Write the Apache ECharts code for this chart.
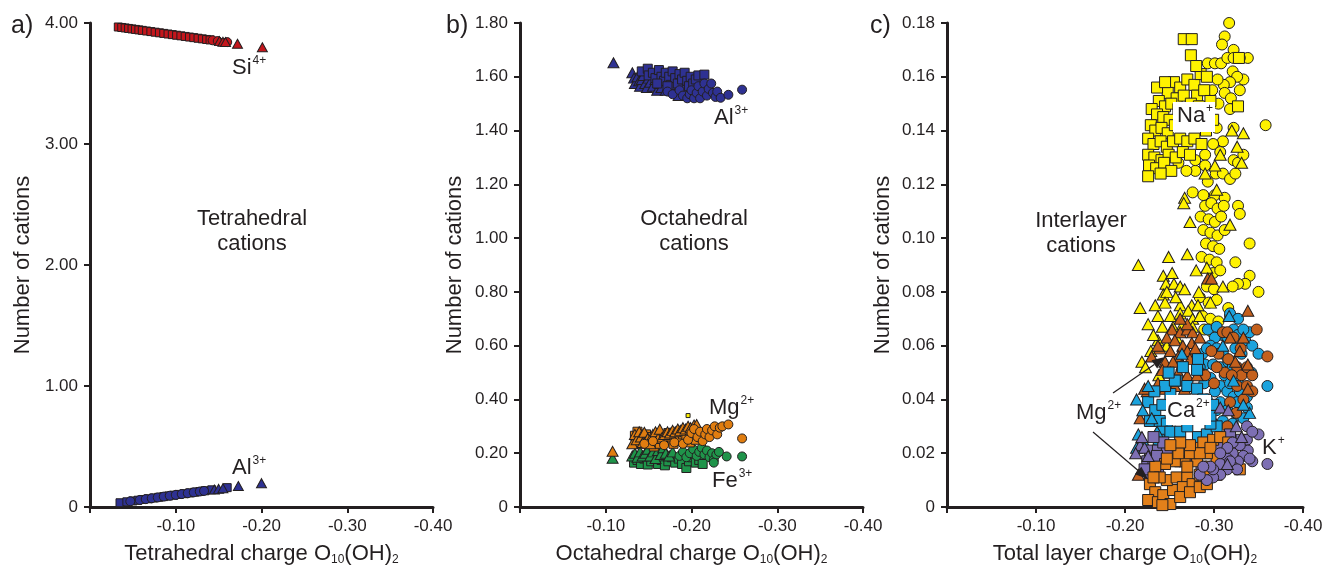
<!DOCTYPE html>
<html><head><meta charset="utf-8">
<script src="https://cdn.jsdelivr.net/npm/echarts@6/dist/echarts.min.js"></script>
<style>html,body{margin:0;padding:0;background:#fff}#c{width:1327px;height:571px}</style>
</head><body><div id="c"></div>
<script>
// ---------- Panel a: tetrahedral cations vs tetrahedral charge ----------
const siSquares = [[-0.033,3.967],[-0.037,3.963],[-0.041,3.959],[-0.045,3.955],[-0.049,3.951],[-0.053,3.947],[-0.057,3.943],[-0.061,3.939],[-0.066,3.934],[-0.071,3.929],[-0.076,3.924],[-0.081,3.919],[-0.086,3.914],[-0.091,3.909],[-0.096,3.904],[-0.101,3.899],[-0.106,3.894],[-0.111,3.889],[-0.116,3.884],[-0.121,3.879],[-0.126,3.874],[-0.131,3.869],[-0.136,3.864],[-0.140,3.860]];
const siCircles = [[-0.143,3.857],[-0.149,3.851],[-0.160,3.842]];
const siTriangles = [[-0.151,3.850],[-0.155,3.845],[-0.158,3.843],[-0.172,3.829],[-0.201,3.800]];
const alTetSquares = [[-0.035,0.035],[-0.043,0.043],[-0.050,0.050],[-0.056,0.056],[-0.062,0.062],[-0.068,0.068],[-0.074,0.074],[-0.080,0.080],[-0.086,0.086],[-0.092,0.092],[-0.098,0.098],[-0.104,0.104],[-0.110,0.110],[-0.116,0.116],[-0.122,0.122],[-0.128,0.128],[-0.134,0.134],[-0.142,0.142],[-0.160,0.160]];
const alTetCircles = [[-0.047,0.047],[-0.058,0.058],[-0.065,0.065],[-0.072,0.072],[-0.079,0.079],[-0.086,0.086],[-0.093,0.093],[-0.100,0.100],[-0.107,0.107],[-0.114,0.114],[-0.121,0.121],[-0.128,0.128],[-0.133,0.133]];
const alTetTriangles = [[-0.145,0.145],[-0.150,0.150],[-0.155,0.155],[-0.173,0.173],[-0.200,0.197]];

// ---------- Panel b: octahedral cations vs octahedral charge ----------
const alOctTriangles = [[-0.109,1.652],[-0.131,1.615],[-0.133,1.595],[-0.134,1.575],[-0.137,1.600],[-0.139,1.585],[-0.140,1.565],[-0.142,1.590],[-0.144,1.605],[-0.146,1.575],[-0.148,1.560],[-0.150,1.595],[-0.152,1.580],[-0.155,1.565],[-0.158,1.590],[-0.160,1.550],[-0.163,1.575],[-0.165,1.560],[-0.168,1.585],[-0.170,1.550],[-0.175,1.570],[-0.180,1.555],[-0.185,1.530],[-0.190,1.560]];
const alOctSquares = [[-0.142,1.620],[-0.149,1.630],[-0.150,1.605],[-0.155,1.615],[-0.158,1.595],[-0.162,1.625],[-0.165,1.600],[-0.168,1.585],[-0.170,1.615],[-0.174,1.600],[-0.176,1.570],[-0.178,1.620],[-0.181,1.595],[-0.184,1.575],[-0.186,1.610],[-0.189,1.590],[-0.192,1.615],[-0.195,1.585],[-0.197,1.565],[-0.199,1.600],[-0.202,1.575],[-0.205,1.590],[-0.208,1.605],[-0.160,1.575],[-0.172,1.565],[-0.215,1.608]];
const alOctCircles = [[-0.172,1.545],[-0.178,1.535],[-0.186,1.550],[-0.190,1.530],[-0.195,1.520],[-0.198,1.535],[-0.200,1.550],[-0.203,1.520],[-0.206,1.540],[-0.208,1.565],[-0.210,1.520],[-0.213,1.545],[-0.215,1.575],[-0.218,1.530],[-0.220,1.555],[-0.223,1.575],[-0.225,1.540],[-0.228,1.525],[-0.230,1.545],[-0.234,1.522],[-0.243,1.533],[-0.259,1.552]];
const mgOctTriangles = [[-0.108,0.207],[-0.131,0.235],[-0.134,0.270],[-0.136,0.250],[-0.139,0.280],[-0.141,0.260],[-0.143,0.240],[-0.145,0.278],[-0.149,0.255],[-0.152,0.235],[-0.155,0.270],[-0.158,0.280],[-0.161,0.255],[-0.163,0.289],[-0.166,0.260],[-0.169,0.270],[-0.172,0.280],[-0.175,0.275],[-0.178,0.285],[-0.181,0.280],[-0.184,0.290],[-0.187,0.285],[-0.190,0.295],[-0.193,0.290],[-0.196,0.300],[-0.199,0.295],[-0.203,0.305],[-0.206,0.307]];
const mgOctSquares = [[-0.134,0.265],[-0.137,0.280],[-0.140,0.235],[-0.143,0.250],[-0.147,0.270],[-0.150,0.240],[-0.153,0.260],[-0.156,0.225],[-0.159,0.250],[-0.163,0.235],[-0.166,0.265],[-0.170,0.245],[-0.173,0.275],[-0.176,0.250],[-0.179,0.235],[-0.182,0.260],[-0.186,0.245],[-0.190,0.270],[-0.194,0.255],[-0.198,0.240],[-0.201,0.265],[-0.205,0.250],[-0.208,0.275],[-0.212,0.260]];
const mgOctCircles = [[-0.145,0.235],[-0.155,0.245],[-0.168,0.230],[-0.180,0.240],[-0.190,0.235],[-0.196,0.250],[-0.200,0.275],[-0.203,0.290],[-0.207,0.260],[-0.210,0.280],[-0.213,0.245],[-0.216,0.270],[-0.218,0.290],[-0.221,0.260],[-0.224,0.285],[-0.227,0.300],[-0.230,0.270],[-0.233,0.295],[-0.236,0.300],[-0.243,0.307],[-0.259,0.255]];
const feOctTriangles = [[-0.108,0.181],[-0.131,0.190],[-0.134,0.200],[-0.137,0.185],[-0.140,0.205],[-0.143,0.190],[-0.146,0.200],[-0.149,0.215],[-0.152,0.190],[-0.155,0.205],[-0.158,0.180],[-0.161,0.210],[-0.164,0.195],[-0.167,0.220],[-0.170,0.200],[-0.174,0.190],[-0.178,0.205]];
const feOctSquares = [[-0.133,0.165],[-0.137,0.175],[-0.141,0.160],[-0.145,0.180],[-0.149,0.158],[-0.153,0.170],[-0.157,0.185],[-0.161,0.160],[-0.165,0.175],[-0.169,0.155],[-0.173,0.170],[-0.177,0.185],[-0.181,0.165],[-0.185,0.180],[-0.189,0.160],[-0.194,0.145],[-0.197,0.170],[-0.201,0.185],[-0.205,0.165],[-0.209,0.175],[-0.213,0.160]];
const feOctCircles = [[-0.186,0.190],[-0.190,0.205],[-0.194,0.185],[-0.198,0.200],[-0.202,0.215],[-0.206,0.190],[-0.209,0.205],[-0.212,0.220],[-0.215,0.195],[-0.218,0.210],[-0.221,0.185],[-0.224,0.200],[-0.226,0.175],[-0.229,0.195],[-0.232,0.205],[-0.241,0.188],[-0.259,0.188],[-0.226,0.165]];
const oddOct = [[-0.196,0.340]];

// ---------- Panel c: interlayer cations vs total layer charge ----------
const naSquares = [[-0.266,0.174],[-0.275,0.174],[-0.274,0.168],[-0.255,0.158],[-0.262,0.156],[-0.270,0.159],[-0.278,0.157],[-0.285,0.161],[-0.292,0.160],[-0.248,0.154],[-0.258,0.152],[-0.266,0.153],[-0.281,0.153],[-0.289,0.155],[-0.238,0.151],[-0.245,0.149],[-0.252,0.150],[-0.260,0.148],[-0.274,0.150],[-0.283,0.149],[-0.296,0.151],[-0.230,0.148],[-0.236,0.146],[-0.243,0.145],[-0.250,0.144],[-0.229,0.142],[-0.234,0.140],[-0.241,0.141],[-0.248,0.139],[-0.256,0.142],[-0.226,0.137],[-0.232,0.135],[-0.240,0.136],[-0.247,0.134],[-0.254,0.136],[-0.262,0.137],[-0.270,0.136],[-0.278,0.137],[-0.286,0.135],[-0.226,0.131],[-0.233,0.130],[-0.241,0.129],[-0.249,0.131],[-0.257,0.130],[-0.265,0.132],[-0.273,0.131],[-0.227,0.127],[-0.235,0.126],[-0.244,0.128],[-0.252,0.125],[-0.226,0.123],[-0.240,0.124],[-0.328,0.167],[-0.327,0.149],[-0.299,0.144],[-0.291,0.140],[-0.236,0.156],[-0.245,0.158],[-0.280,0.164],[-0.288,0.146]];
const naCircles = [[-0.317,0.180],[-0.312,0.175],[-0.309,0.172],[-0.322,0.170],[-0.338,0.167],[-0.293,0.165],[-0.301,0.165],[-0.308,0.165],[-0.315,0.167],[-0.322,0.167],[-0.329,0.167],[-0.333,0.159],[-0.321,0.162],[-0.326,0.160],[-0.318,0.158],[-0.311,0.157],[-0.329,0.155],[-0.312,0.154],[-0.319,0.152],[-0.305,0.150],[-0.318,0.148],[-0.298,0.155],[-0.304,0.159],[-0.358,0.142],[-0.303,0.141],[-0.310,0.136],[-0.322,0.141],[-0.299,0.135],[-0.307,0.132],[-0.290,0.131],[-0.322,0.129],[-0.327,0.128],[-0.333,0.131],[-0.302,0.124],[-0.310,0.124],[-0.318,0.122],[-0.324,0.124],[-0.279,0.125],[-0.269,0.125],[-0.260,0.128],[-0.279,0.129],[-0.290,0.127],[-0.293,0.121],[-0.276,0.117],[-0.288,0.116],[-0.301,0.116],[-0.312,0.115],[-0.290,0.112],[-0.297,0.113],[-0.304,0.111],[-0.311,0.112],[-0.327,0.112],[-0.329,0.109],[-0.285,0.108],[-0.294,0.107],[-0.301,0.106],[-0.308,0.108],[-0.288,0.103],[-0.296,0.102],[-0.304,0.101],[-0.312,0.103],[-0.291,0.098],[-0.299,0.097],[-0.306,0.096],[-0.340,0.098],[-0.286,0.093],[-0.295,0.092],[-0.303,0.091],[-0.324,0.091],[-0.299,0.087],[-0.307,0.088],[-0.340,0.086],[-0.335,0.083],[-0.327,0.083],[-0.321,0.082],[-0.350,0.080],[-0.292,0.082],[-0.300,0.081],[-0.284,0.078],[-0.294,0.076],[-0.303,0.077],[-0.316,0.074],[-0.318,0.071],[-0.287,0.071],[-0.296,0.070],[-0.305,0.069],[-0.289,0.066],[-0.298,0.065]];
const naTriangles = [[-0.320,0.140],[-0.333,0.139],[-0.326,0.134],[-0.331,0.128],[-0.307,0.131],[-0.290,0.124],[-0.301,0.127],[-0.303,0.118],[-0.267,0.115],[-0.266,0.113],[-0.273,0.106],[-0.318,0.105],[-0.215,0.090],[-0.249,0.093],[-0.270,0.094],[-0.280,0.088],[-0.292,0.089],[-0.243,0.086],[-0.253,0.087],[-0.246,0.083],[-0.255,0.083],[-0.262,0.082],[-0.267,0.081],[-0.310,0.082],[-0.243,0.079],[-0.247,0.080],[-0.217,0.074],[-0.234,0.075],[-0.245,0.076],[-0.262,0.075],[-0.275,0.075],[-0.282,0.075],[-0.296,0.076],[-0.237,0.071],[-0.251,0.071],[-0.262,0.072],[-0.271,0.073],[-0.276,0.070],[-0.284,0.071],[-0.242,0.067],[-0.254,0.067],[-0.265,0.068],[-0.276,0.067],[-0.237,0.062],[-0.247,0.060],[-0.258,0.063],[-0.219,0.054],[-0.223,0.052],[-0.238,0.049],[-0.232,0.064],[-0.226,0.068],[-0.257,0.078],[-0.283,0.080],[-0.229,0.058]];
const mgIlTriangles = [[-0.293,0.085],[-0.297,0.085],[-0.338,0.073],[-0.253,0.066],[-0.262,0.065],[-0.270,0.066],[-0.276,0.065],[-0.247,0.063],[-0.256,0.062],[-0.265,0.060],[-0.275,0.061],[-0.284,0.063],[-0.239,0.059],[-0.251,0.058],[-0.260,0.056],[-0.270,0.058],[-0.279,0.059],[-0.245,0.054],[-0.254,0.054],[-0.264,0.053],[-0.273,0.055],[-0.282,0.053],[-0.242,0.051],[-0.251,0.050],[-0.260,0.050],[-0.270,0.049],[-0.281,0.049],[-0.225,0.043],[-0.237,0.046],[-0.245,0.044],[-0.256,0.045],[-0.267,0.044],[-0.318,0.063],[-0.329,0.058],[-0.338,0.053],[-0.324,0.054],[-0.222,0.044],[-0.217,0.033],[-0.215,0.012],[-0.338,0.044],[-0.333,0.063],[-0.270,0.068],[-0.237,0.060],[-0.230,0.056],[-0.262,0.070]];
const caCircles = [[-0.318,0.072],[-0.327,0.070],[-0.293,0.066],[-0.303,0.067],[-0.309,0.064],[-0.301,0.063],[-0.296,0.060],[-0.315,0.063],[-0.322,0.066],[-0.327,0.064],[-0.335,0.062],[-0.343,0.060],[-0.324,0.059],[-0.331,0.057],[-0.310,0.057],[-0.303,0.059],[-0.287,0.057],[-0.290,0.053],[-0.299,0.053],[-0.307,0.052],[-0.316,0.054],[-0.350,0.057],[-0.321,0.052],[-0.340,0.065],[-0.333,0.066],[-0.292,0.059],[-0.284,0.052],[-0.360,0.045],[-0.307,0.045],[-0.315,0.043],[-0.322,0.041],[-0.329,0.043],[-0.337,0.037],[-0.307,0.039],[-0.315,0.036],[-0.326,0.034],[-0.333,0.033],[-0.303,0.036],[-0.310,0.032],[-0.321,0.031],[-0.299,0.031],[-0.337,0.041],[-0.301,0.043],[-0.296,0.048],[-0.312,0.049],[-0.328,0.048],[-0.289,0.046],[-0.318,0.046],[-0.342,0.050],[-0.292,0.040],[-0.326,0.039]];
const caSquares = [[-0.226,0.039],[-0.234,0.036],[-0.228,0.032],[-0.239,0.032],[-0.247,0.031],[-0.242,0.038],[-0.242,0.028],[-0.251,0.028],[-0.262,0.028],[-0.270,0.030],[-0.282,0.026],[-0.292,0.027],[-0.303,0.030],[-0.251,0.042],[-0.258,0.047],[-0.270,0.045],[-0.281,0.044],[-0.245,0.045],[-0.256,0.047],[-0.282,0.055],[-0.281,0.051],[-0.296,0.031],[-0.296,0.034],[-0.299,0.038],[-0.233,0.043],[-0.238,0.025],[-0.255,0.034],[-0.265,0.038],[-0.275,0.035],[-0.288,0.040],[-0.265,0.052],[-0.249,0.050]];
const caTriangles = [[-0.213,0.040],[-0.220,0.036],[-0.215,0.027],[-0.220,0.025],[-0.213,0.022],[-0.219,0.023],[-0.264,0.057],[-0.317,0.071],[-0.236,0.028],[-0.340,0.035],[-0.333,0.038],[-0.226,0.045],[-0.230,0.033],[-0.310,0.060],[-0.322,0.047]];
const mgIlCircles = [[-0.310,0.065],[-0.348,0.066],[-0.360,0.056],[-0.316,0.055],[-0.326,0.052],[-0.331,0.049],[-0.337,0.052],[-0.343,0.049],[-0.312,0.050],[-0.320,0.049],[-0.326,0.045],[-0.337,0.045],[-0.343,0.043],[-0.315,0.065],[-0.322,0.063],[-0.305,0.057],[-0.330,0.059],[-0.333,0.040],[-0.318,0.039],[-0.303,0.052],[-0.325,0.035],[-0.315,0.030],[-0.300,0.046],[-0.290,0.049],[-0.297,0.058],[-0.309,0.024],[-0.322,0.022]];
const kSquares = [[-0.228,0.021],[-0.237,0.021],[-0.247,0.021],[-0.225,0.017],[-0.232,0.015],[-0.237,0.012],[-0.228,0.012],[-0.276,0.018],[-0.296,0.020],[-0.318,0.027],[-0.331,0.025],[-0.262,0.017],[-0.236,0.019],[-0.243,0.024],[-0.232,0.026],[-0.305,0.022],[-0.286,0.015],[-0.222,0.014]];
const mgIlSquares = [[-0.228,0.0085],[-0.234,0.0055],[-0.226,0.0026],[-0.237,0.0018],[-0.243,0.0044],[-0.251,0.0011],[-0.254,0.0063],[-0.247,0.010],[-0.258,0.011],[-0.270,0.011],[-0.265,0.0074],[-0.276,0.0085],[-0.284,0.012],[-0.296,0.015],[-0.303,0.018],[-0.292,0.020],[-0.281,0.017],[-0.267,0.017],[-0.256,0.017],[-0.245,0.016],[-0.234,0.015],[-0.270,0.015],[-0.281,0.022],[-0.288,0.024],[-0.299,0.025],[-0.307,0.026],[-0.316,0.024],[-0.329,0.014],[-0.324,0.018],[-0.260,0.020],[-0.273,0.020],[-0.284,0.020],[-0.318,0.020],[-0.247,0.018],[-0.239,0.011],[-0.262,0.0037],[-0.273,0.0055],[-0.284,0.0074],[-0.292,0.0085],[-0.232,0.011],[-0.242,0.0007],[-0.292,0.012],[-0.303,0.012],[-0.296,0.022],[-0.273,0.023],[-0.262,0.024],[-0.251,0.023]];
const kCircles = [[-0.350,0.027],[-0.360,0.016],[-0.343,0.017],[-0.337,0.030],[-0.337,0.025],[-0.338,0.021],[-0.333,0.019],[-0.327,0.017],[-0.321,0.015],[-0.315,0.014],[-0.307,0.012],[-0.299,0.011],[-0.292,0.010],[-0.321,0.020],[-0.315,0.018],[-0.307,0.016],[-0.299,0.014],[-0.329,0.023],[-0.321,0.024],[-0.315,0.022],[-0.307,0.020],[-0.296,0.015],[-0.326,0.014],[-0.318,0.017],[-0.340,0.018],[-0.343,0.028],[-0.284,0.012],[-0.288,0.015]];
const kTriangles = [[-0.217,0.023],[-0.222,0.022],[-0.219,0.026],[-0.315,0.016],[-0.331,0.026],[-0.307,0.037],[-0.316,0.036],[-0.226,0.019],[-0.212,0.020],[-0.325,0.030]];

// ---------- Axes ----------
const xTitles = ['Tetrahedral charge O{s|10}(OH){s|2}', 'Octahedral charge O{s|10}(OH){s|2}', 'Total layer charge O{s|10}(OH){s|2}'];
const yMax = [4, 1.8, 0.18];
const yStep = [1, 0.2, 0.02];

const INK = '#231f20';
const FONT = '"Liberation Sans", Arial, sans-serif';
const C = {red:'#c4161c', blue:'#2e3192', orange:'#e07d10', green:'#1f944a', yellow:'#fff200', sky:'#1ba3dd', brown:'#c4601c', mgSq:'#e3801a', purple:'#7d6fb3'};

const grids = [
  {left:90, top:23, width:343, height:487},
  {left:520, top:23, width:343, height:487},
  {left:947, top:23, width:356, height:487}
];
const yGaps = [56, 54, 53];

const xAxis = grids.map((g,i)=>({
  gridIndex:i, type:'value', min:-0.4, max:0, interval:0.1, inverse:true,
  name:xTitles[i], nameLocation:'middle', nameGap:34,
  nameTextStyle:{color:INK, fontFamily:FONT, fontSize:22, rich:{s:{fontSize:12, fontFamily:FONT, color:INK, padding:[13,0,0,0]}}},
  axisLine:{onZero:false, lineStyle:{color:INK, width:3}},
  axisTick:{length:6, lineStyle:{color:INK, width:2}},
  axisLabel:{margin:11, color:INK, fontFamily:FONT, fontSize:17, formatter:v=>Math.abs(v)<1e-9?'':v.toFixed(2)},
  splitLine:{show:false}
}));
const yAxis = grids.map((g,i)=>({
  gridIndex:i, type:'value', min:0, max:yMax[i], interval:yStep[i],
  name:'Number of cations', nameLocation:'middle', nameGap:yGaps[i],
  nameTextStyle:{color:INK, fontFamily:FONT, fontSize:22},
  axisLine:{onZero:false, lineStyle:{color:INK, width:3}},
  axisTick:{length:6, lineStyle:{color:INK, width:2}},
  axisLabel:{margin:12, color:INK, fontFamily:FONT, fontSize:17, formatter:v=>Math.abs(v)<1e-9?'0':v.toFixed(2)},
  splitLine:{show:false}
}));

function sc(data, symbol, color, gi, size){
  return {type:'scatter', xAxisIndex:gi, yAxisIndex:gi, data:data, symbol:symbol,
    symbolSize: symbol==='triangle' ? [size+1, size] : size,
    itemStyle:{color:color, borderColor:INK, borderWidth:1, opacity:1},
    emphasis:{disabled:true}, silent:true};
}
const series = [
  sc(siSquares,'rect',C.red,0,8), sc(siCircles,'circle',C.red,0,9), sc(siTriangles,'triangle',C.red,0,9),
  sc(alTetSquares,'rect',C.blue,0,8), sc(alTetCircles,'circle',C.blue,0,9), sc(alTetTriangles,'triangle',C.blue,0,9),
  sc(alOctTriangles,'triangle',C.blue,1,10), sc(alOctSquares,'rect',C.blue,1,9), sc(alOctCircles,'circle',C.blue,1,9),
  sc(feOctSquares,'rect',C.green,1,9), sc(feOctTriangles,'triangle',C.green,1,10), sc(feOctCircles,'circle',C.green,1,9),
  sc(mgOctSquares,'rect',C.orange,1,9), sc(mgOctTriangles,'triangle',C.orange,1,10), sc(mgOctCircles,'circle',C.orange,1,9),
  sc(oddOct,'rect',C.yellow,1,4),
  sc(naCircles,'circle',C.yellow,2,11), sc(naTriangles,'triangle',C.yellow,2,11), sc(naSquares,'rect',C.yellow,2,11),
  sc(caCircles,'circle',C.sky,2,11), sc(mgIlCircles,'circle',C.brown,2,11),
  sc(mgIlTriangles,'triangle',C.brown,2,11),
  sc(caSquares,'rect',C.sky,2,11), sc(caTriangles,'triangle',C.sky,2,11),
  sc(kSquares,'rect',C.purple,2,11), sc(mgIlSquares,'rect',C.mgSq,2,11),
  sc(kCircles,'circle',C.purple,2,11), sc(kTriangles,'triangle',C.purple,2,11)
];

const rich = {b:{fontSize:22, fontFamily:FONT, color:INK, lineHeight:26}, p:{fontSize:12, fontFamily:FONT, color:INK, lineHeight:26, verticalAlign:'top', padding:[0,0,11,1]}};
function lbl(x,y,t){ return {type:'text', left:x, top:y, z:100, style:{text:t, rich:rich, fill:INK, font:'22px '+FONT}}; }
function txt(x,y,t,size,align){ return {type:'text', x:x, y:y, z:100, style:{text:t, fill:INK, fontFamily:FONT, fontSize:size, textAlign:align||'left', lineHeight:25}}; }
function arrow(x1,y1,x2,y2){
  const a=Math.atan2(y2-y1,x2-x1), L=13, W=5;
  const bx=x2-L*Math.cos(a), by=y2-L*Math.sin(a);
  return [
    {type:'line', z:100, shape:{x1:x1,y1:y1,x2:bx,y2:by}, style:{stroke:INK, lineWidth:1.2}},
    {type:'polygon', z:100, shape:{points:[[x2,y2],[bx+W*Math.sin(a),by-W*Math.cos(a)],[bx-W*Math.sin(a),by+W*Math.cos(a)]]}, style:{fill:INK}}
  ];
}
const graphic = [
  txt(11,14,'a)',25), txt(446,14,'b)',25), txt(870,14,'c)',25),
  txt(252,206,'Tetrahedral\ncations',22,'center'),
  txt(694,206,'Octahedral\ncations',22,'center'),
  txt(1081,208,'Interlayer\ncations',22,'center'),
  lbl(232,55,'{b|Si}{p|4+}'), lbl(232,455,'{b|Al}{p|3+}'),
  lbl(714,105,'{b|Al}{p|3+}'), lbl(709,395,'{b|Mg}{p|2+}'), lbl(712,468,'{b|Fe}{p|3+}'),
  {type:'rect', z:99, shape:{x:1173,y:102,width:42,height:30}, style:{fill:'#fff'}},
  lbl(1177,103,'{b|Na}{p|+}'),
  {type:'rect', z:99, shape:{x:1166,y:395,width:45,height:30}, style:{fill:'#fff'}},
  lbl(1167,398,'{b|Ca}{p|2+}'),
  lbl(1262,435,'{b|K}{p|+}'), lbl(1076,400,'{b|Mg}{p|2+}')
].concat(arrow(1113,393,1165,357), arrow(1093,432,1148,479));

const chart = echarts.init(document.getElementById('c'), null, {renderer:'canvas'});
chart.setOption({animation:false, backgroundColor:'#fff', grid:grids, xAxis:xAxis, yAxis:yAxis, series:series, graphic:graphic});
</script></body></html>
